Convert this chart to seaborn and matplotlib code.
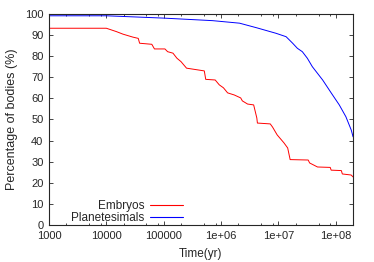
import pandas as pd
import seaborn as sns
import matplotlib.pyplot as plt
from matplotlib.lines import Line2D
from matplotlib.ticker import LogLocator, FixedLocator, FixedFormatter, NullFormatter

# Embryos survival curve (time in yr, percentage)
emb_time = [1e3, 1.0e4, 1.5e4, 1.95e4, 2.9e4, 3.6e4, 3.8e4, 6.2e4, 6.9e4, 1.05e5,
            1.17e5, 1.45e5, 1.7e5, 2.0e5, 2.5e5, 5.1e5, 5.4e5, 7.9e5, 9.3e5, 1.1e6,
            1.3e6, 1.7e6, 2.2e6, 2.35e6, 2.9e6, 3.7e6, 4.2e6, 4.3e6, 7.2e6, 7.9e6,
            9.5e6, 1.25e7, 1.45e7, 1.6e7, 3.3e7, 3.5e7, 4.8e7, 8.0e7, 8.3e7, 1.25e8,
            1.3e8, 1.85e8, 2.0e8]
emb_pct = [93.2, 93.2, 91.6, 90.4, 89.0, 88.4, 86.1, 85.6, 83.4, 83.4,
           82.1, 81.4, 79.0, 77.4, 74.3, 73.0, 69.0, 68.7, 66.4, 65.0,
           62.6, 61.6, 60.2, 58.8, 57.3, 56.9, 50.7, 48.3, 47.9, 46.4,
           42.7, 38.9, 36.5, 31.0, 30.8, 29.4, 27.5, 27.3, 26.0, 25.8,
           24.2, 23.7, 22.8]

# Planetesimals survival curve
pla_time = [1e3, 1e4, 1e5, 3.7e5, 7.1e5, 2.1e6, 4.2e6, 9.1e6, 1.36e7, 1.77e7,
            2.14e7, 2.61e7, 3.19e7, 3.9e7, 5.9e7, 8.4e7, 1.15e8, 1.5e8, 1.86e8, 2.0e8]
pla_pct = [99.1, 99.1, 98.0, 97.2, 96.8, 95.6, 93.4, 90.8, 89.2, 86.1,
           83.7, 82.1, 79.0, 75.0, 68.7, 62.4, 56.9, 51.3, 45.0, 41.8]

x_ticks = [1e3, 1e4, 1e5, 1e6, 1e7, 1e8]
x_labels = ['1000', '10000', '100000', '1e+06', '1e+07', '1e+08']

emb = pd.DataFrame({'time': emb_time, 'pct': emb_pct})
pla = pd.DataFrame({'time': pla_time, 'pct': pla_pct})
red, blue = '#ff0000', '#0000ff'

sns.set_style('ticks')
plt.rcParams['font.family'] = ['Liberation Sans', 'DejaVu Sans']
plt.rcParams['font.size'] = 8

fig = plt.figure(figsize=(3.74, 2.62), dpi=100)
ax = fig.add_axes([0.131, 0.141, 0.813, 0.806])

sns.lineplot(data=emb, x='time', y='pct', color=red,
             estimator=None, sort=False, linewidth=0.7, ax=ax)
sns.lineplot(data=pla, x='time', y='pct', color=blue,
             estimator=None, sort=False, linewidth=0.7, ax=ax)

ax.set_xscale('log')
ax.set_xlim(1e3, 2e8)
ax.set_ylim(0, 100)
ax.xaxis.set_major_locator(FixedLocator(x_ticks))
ax.xaxis.set_major_formatter(FixedFormatter(x_labels))
ax.xaxis.set_minor_locator(LogLocator(base=10, subs=[2, 5, 8]))
ax.xaxis.set_minor_formatter(NullFormatter())
ax.set_yticks(range(0, 101, 10))

ax.tick_params(which='both', direction='in', top=True, right=True, width=0.6,
               labelsize=8)
ax.tick_params(axis='x', pad=4)
ax.tick_params(axis='y', pad=4)
ax.tick_params(which='major', length=3)
ax.tick_params(which='minor', length=1.5)
for s in ax.spines.values():
    s.set_linewidth(0.8)

ax.set_xlabel('Time(yr)', fontsize=8.5, labelpad=5)
ax.set_ylabel('Percentage of bodies (%)', fontsize=9, labelpad=5)

# gnuplot-style key: label first, sample line after, rows right-aligned
handles = [Line2D([], [], color=red, linewidth=0.8),
           Line2D([], [], color=blue, linewidth=0.8)]
ax.legend(handles, ['Embryos', 'Planetesimals'], loc='lower left',
          bbox_to_anchor=(0.045, -0.035), frameon=False,
          markerfirst=False, fontsize=8.5, handlelength=2.8,
          labelspacing=0.0, borderaxespad=0.3, handletextpad=0.5)

fig.savefig('out.png', dpi=100)
